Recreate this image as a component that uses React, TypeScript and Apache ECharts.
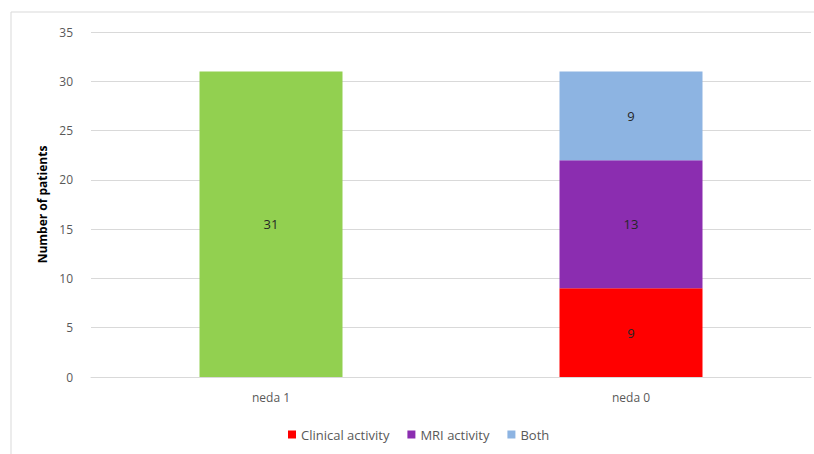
import React, { useEffect, useRef } from "react";
import * as echarts from "echarts";

const categories = ["neda 1", "neda 0"];
const nedaOne = [31, "-"];
const clinical = ["-", 9];
const mri = ["-", 13];
const both = ["-", 9];
const legendNames = ["Clinical activity", "MRI activity", "Both"];

export default function App() {
  const ref = useRef<HTMLDivElement>(null);
  useEffect(() => {
    const chart = echarts.init(ref.current!, null, { renderer: "svg" });
    const font = "'Open Sans', 'Noto Sans', sans-serif";
    const label = {
      show: true,
      position: "inside",
      color: "#262626",
      fontSize: 13,
      fontFamily: font,
      formatter: (p: any) => String(p.value),
    };
    const bar = (name: string, data: any[], color: string) => ({
      name,
      type: "bar",
      stack: "total",
      data,
      barWidth: 143,
      itemStyle: { color },
      label,
    });
    chart.setOption({
      animation: false,
      textStyle: { fontFamily: font },
      graphic: [
        {
          type: "rect",
          shape: { x: 11, y: 12, width: 830, height: 460 },
          style: { fill: "none", stroke: "#d9d9d9", lineWidth: 1 },
          silent: true,
        },
      ],
      grid: { left: 91, right: 3, top: 32, bottom: 77 },
      legend: {
        data: legendNames,
        left: 283,
        top: 423,
        icon: "rect",
        itemWidth: 8,
        itemHeight: 8,
        itemGap: 18,
        textStyle: { color: "#595959", fontSize: 13, fontFamily: font },
      },
      xAxis: {
        type: "category",
        data: categories,
        axisLine: { lineStyle: { color: "#d9d9d9" } },
        axisTick: { show: false },
        axisLabel: { color: "#595959", fontSize: 12, margin: 14, fontFamily: font },
      },
      yAxis: {
        type: "value",
        min: 0,
        max: 35,
        interval: 5,
        name: "Number of patients",
        nameLocation: "middle",
        nameGap: 37,
        nameTextStyle: { color: "#000", fontWeight: "bold", fontSize: 12, fontFamily: font },
        axisLine: { show: false },
        axisTick: { show: false },
        axisLabel: { color: "#595959", fontSize: 12, margin: 18, fontFamily: font },
        splitLine: { lineStyle: { color: "#d9d9d9" } },
      },
      series: [
        bar("neda 1", nedaOne, "#92D050"),
        bar(legendNames[0], clinical, "#FF0000"),
        bar(legendNames[1], mri, "#8B2DB0"),
        bar(legendNames[2], both, "#8DB4E2"),
      ],
    });
    return () => chart.dispose();
  }, []);
  return (
    <div
      ref={ref}
      style={{ position: "fixed", left: 0, top: 0, width: 814, height: 454, background: "#fff" }}
    />
  );
}
